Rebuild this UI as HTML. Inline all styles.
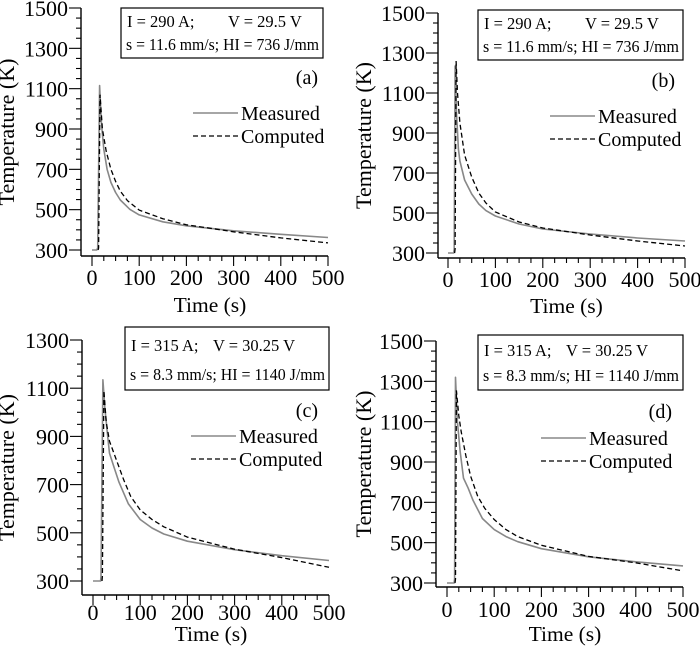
<!DOCTYPE html>
<html><head><meta charset="utf-8"><style>
html,body{margin:0;padding:0;background:#fff;}
svg{display:block;font-family:"Liberation Serif",serif;}
</style></head><body>
<svg id="s" width="700" height="649" xmlns="http://www.w3.org/2000/svg"></svg>
<script>
const S=document.getElementById('s');
let h='';
function panel(c){
  const {ax,x0,x1,yTopPix,yBotPix,ymax,yAxis,box,lab,L,M,C,ylab,voff,tl,tt}=c;
  const ys=(yBotPix-yTopPix)/(ymax-300);
  const Y=v=>yBotPix-(v-300)*ys;
  const X=t=>x0+(t)*(x1-x0)/500;
  const yTopAxis=Y(ymax);
  h+=`<line x1="${ax}" y1="${yTopAxis}" x2="${ax}" y2="${yAxis}" stroke="#000" stroke-width="1.4"/>`;
  h+=`<line x1="${ax}" y1="${yAxis}" x2="${x1}" y2="${yAxis}" stroke="#000" stroke-width="1.4"/>`;
  for(let t=0;t<=500;t+=25){const maj=t%100==0;h+=`<line x1="${X(t)}" y1="${yAxis}" x2="${X(t)}" y2="${yAxis+(maj?10:5)}" stroke="#000" stroke-width="1.1"/>`;
    if(maj)h+=`<text x="${X(t)}" y="${yAxis+tl}" font-size="22" text-anchor="middle">${t}</text>`;}
  for(let v=300;v<=ymax;v+=50){const maj=(v-300)%200==0;h+=`<line x1="${ax}" y1="${Y(v)}" x2="${ax-(maj?12:5)}" y2="${Y(v)}" stroke="#000" stroke-width="1.1"/>`;
    if(maj)h+=`<text x="${ax-13}" y="${Y(v)+8}" font-size="22" text-anchor="end">${v}</text>`;}
  h+=`<text x="${(x0+x1)/2}" y="${yAxis+tt}" font-size="21.5" text-anchor="middle">Time (s)</text>`;
  const cy=(yTopAxis+yAxis)/2;
  h+=`<text x="${ylab}" y="${cy}" font-size="22" text-anchor="middle" transform="rotate(-90 ${ylab} ${cy})">Temperature (K)</text>`;
  h+=`<rect x="${box[0]}" y="${box[1]}" width="${box[2]-box[0]}" height="${box[3]-box[1]}" fill="#fff" stroke="#000" stroke-width="1.2"/>`;
  const bh=box[3]-box[1];
  h+=`<text x="${box[0]+6}" y="${box[1]+bh*0.38}" font-size="16.5">${c.t1}</text>`;
  h+=`<text x="${box[0]+voff}" y="${box[1]+bh*0.38}" font-size="16.5">${c.t2}</text>`;
  h+=`<text x="${box[0]+5}" y="${box[1]+bh*0.84}" font-size="16.5" textLength="${box[2]-box[0]-9}" lengthAdjust="spacingAndGlyphs">${c.t3}</text>`;
  h+=`<text x="${lab[0]}" y="${lab[1]}" font-size="20" text-anchor="end">${c.letter}</text>`;
  h+=`<line x1="${L[0]}" y1="${L[1]}" x2="${L[0]+45}" y2="${L[1]}" stroke="#888" stroke-width="1.5"/>`;
  h+=`<text x="${L[0]+48}" y="${L[1]+7}" font-size="20">Measured</text>`;
  h+=`<line x1="${L[0]}" y1="${L[1]+23}" x2="${L[0]+45}" y2="${L[1]+23}" stroke="#000" stroke-width="1.3" stroke-dasharray="5,3"/>`;
  h+=`<text x="${L[0]+48}" y="${L[1]+30}" font-size="20">Computed</text>`;
  const pts=a=>a.map(p=>X(p[0]).toFixed(1)+','+Y(p[1]).toFixed(1)).join(' ');
  h+=`<polyline points="${pts(M)}" fill="none" stroke="#888" stroke-width="1.6" stroke-linejoin="round"/>`;
  h+=`<polyline points="${pts(C)}" fill="none" stroke="#000" stroke-width="1.3" stroke-dasharray="5,3"/>`;
}
const tA1="I = 290 A;",tA2="V = 29.5 V",tA3="s = 11.6 mm/s; HI = 736 J/mm";
const tC1="I = 315 A;",tC2="V = 30.25 V",tC3="s = 8.3 mm/s; HI = 1140 J/mm";
panel({ax:81,x0:92,x1:328,yTopPix:8,yBotPix:250,ymax:1500,yAxis:256,ylab:14,box:[121,8,323,58],lab:[318,84],L:[193,113],voff:107,tl:29,tt:56,
 t1:tA1,t2:tA2,t3:tA3,letter:"(a)",
 M:[[0,300],[10,300],[12,310],[16,1115],[20,930],[25,800],[32,700],[40,635],[50,585],[60,548],[80,502],[100,474],[150,440],[200,420],[300,395],[400,378],[500,362]],
 C:[[13,300],[14,310],[17,1070],[22,900],[30,790],[40,700],[50,640],[60,592],[75,545],[100,498],[150,455],[200,425],[250,408],[300,390],[400,360],[500,335]]});
panel({ax:438,x0:448,x1:685,yTopPix:13,yBotPix:253,ymax:1500,yAxis:258,ylab:371,box:[478,10,683,60],lab:[675,87],L:[550,116],voff:107,tl:29,tt:55,
 t1:tA1,t2:tA2,t3:tA3,letter:"(b)",
 M:[[0,300],[12,300],[13,320],[15,1235],[18,1000],[22,820],[25,760],[35,665],[50,595],[65,545],[80,512],[100,485],[150,445],[200,420],[300,395],[400,375],[500,360]],
 C:[[14,300],[15,320],[17,1260],[20,1100],[25,950],[35,790],[50,680],[65,600],[80,550],[100,505],[150,455],[200,425],[300,390],[400,360],[500,335]]});
panel({ax:82,x0:93,x1:329,yTopPix:340,yBotPix:581,ymax:1300,yAxis:595,ylab:14,box:[125,327,329,390],lab:[318,417],L:[191,436],voff:88,tl:25,tt:46,
 t1:tC1,t2:tC2,t3:tC3,letter:"(c)",
 M:[[0,300],[16,300],[17,320],[21,1135],[25,1020],[30,920],[35,830],[45,770],[55,710],[75,620],[100,555],[125,520],[150,495],[200,465],[300,430],[400,405],[500,385]],
 C:[[19,300],[20,320],[23,1090],[28,960],[35,880],[50,800],[65,720],[80,650],[100,595],[125,555],[150,525],[200,482],[300,432],[400,397],[500,357]]});
panel({ax:436,x0:447,x1:683,yTopPix:341,yBotPix:583,ymax:1500,yAxis:587,ylab:371,box:[478,335,683,390],lab:[672,418],L:[541,438],voff:88,tl:30,tt:54,
 t1:tC1,t2:tC2,t3:tC3,letter:"(d)",
 M:[[0,300],[15,300],[16,320],[18,1320],[22,1100],[28,950],[35,820],[45,770],[55,710],[75,620],[100,565],[125,530],[150,505],[200,470],[300,430],[400,405],[500,385]],
 C:[[17,300],[18,320],[20,1255],[25,1130],[30,1050],[40,930],[50,830],[65,730],[80,670],[100,615],[125,565],[150,530],[200,487],[300,432],[400,400],[500,360]]});
S.innerHTML=h;
</script>
</body></html>
